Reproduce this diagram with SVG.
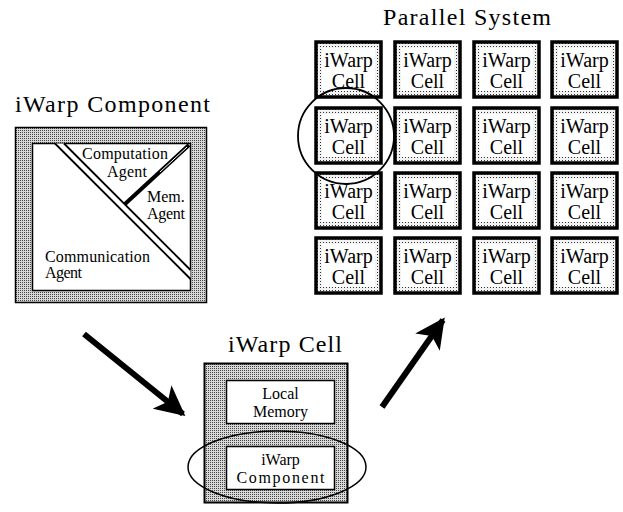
<svg xmlns="http://www.w3.org/2000/svg" width="623" height="512" viewBox="0 0 623 512">
<defs>
<pattern id="stip" width="2" height="2" patternUnits="userSpaceOnUse">
<rect width="2" height="2" fill="#d8d8d8"/>
<rect x="0" y="0" width="1" height="1" fill="#444"/>
</pattern>
<pattern id="dots" width="3" height="3" patternUnits="userSpaceOnUse">
<rect width="3" height="3" fill="#f2f2f2"/>
<rect x="1" y="1" width="1" height="1" fill="#333"/>
</pattern>
<marker id="ah" viewBox="0 0 10 10" refX="9" refY="5" markerWidth="5" markerHeight="5" orient="auto" markerUnits="strokeWidth">
<path d="M0,0 L10,5 L0,10 L2.5,5 Z" fill="#000"/>
</marker>
<g id="cell">
<rect x="0" y="0" width="65" height="55" fill="url(#dots)" stroke="#000" stroke-width="3.5"/>
<rect x="6" y="6" width="53" height="43" fill="#fff"/>
<text x="32.5" y="25" class="c">iWarp</text>
<text x="32.5" y="46" class="c">Cell</text>
</g>
</defs>
<style>
text{font-family:"Liberation Serif","Times New Roman",serif;fill:#000}
.t{font-size:24px}
.s{font-size:16px}
.c{font-size:20px;text-anchor:middle}
.m{font-size:16px;text-anchor:middle}
</style>
<rect width="623" height="512" fill="#fff"/>

<g id="iwarp-component">
<text x="15" y="112" class="t" textLength="195" lengthAdjust="spacing">iWarp  Component</text>
<rect x="15.5" y="127.5" width="191" height="175" fill="url(#stip)" stroke="#000" stroke-width="1.5"/>
<rect x="32.5" y="143.5" width="158" height="147" fill="#fff" stroke="#000" stroke-width="1.5"/>
<polygon points="55,143.5 64,143.5 190.5,270 190.5,279" fill="#fff"/>
<line x1="55" y1="143.5" x2="190.5" y2="279" stroke="#000" stroke-width="1.8"/>
<line x1="64" y1="143.5" x2="190.5" y2="270" stroke="#000" stroke-width="1.8"/>
<line x1="189" y1="145" x2="125" y2="204" stroke="#000" stroke-width="4"/>
<line x1="187" y1="147" x2="160" y2="172" stroke="#fff" stroke-width="1"/>
<text x="82" y="159" class="s" textLength="86" lengthAdjust="spacing">Computation</text>
<text x="107" y="177" class="s" textLength="40" lengthAdjust="spacing">Agent</text>
<text x="147" y="202" class="s">Mem.</text>
<text x="147" y="219" class="s" textLength="38" lengthAdjust="spacing">Agent</text>
<text x="45" y="262" class="s" textLength="105" lengthAdjust="spacing">Communication</text>
<text x="45" y="278" class="s" textLength="37" lengthAdjust="spacing">Agent</text>
</g>

<g id="iwarp-cell">
<text x="228" y="352" class="t" textLength="114" lengthAdjust="spacing">iWarp Cell</text>
<rect x="204.5" y="363.5" width="143" height="139" fill="url(#stip)" stroke="#000" stroke-width="2"/>
<g id="local-memory">
<rect x="226.5" y="380.5" width="108" height="43" fill="#fff" stroke="#000" stroke-width="1.5"/>
<text x="280.5" y="399" class="m">Local</text>
<text x="280.5" y="417" class="m">Memory</text>
</g>
<g id="cell-component">
<rect x="226.5" y="446.5" width="108" height="43" fill="#fff" stroke="#000" stroke-width="1.5"/>
<text x="280.5" y="465" class="m">iWarp</text>
<text x="280.5" y="483" class="m" textLength="88" lengthAdjust="spacing">Component</text>
</g>
<ellipse cx="277" cy="467" rx="89" ry="36" fill="none" stroke="#000" stroke-width="1.5"/>
</g>

<g id="parallel-system">
<text x="383" y="25" class="t" textLength="168" lengthAdjust="spacing">Parallel  System</text>
<use href="#cell" x="316" y="42"/>
<use href="#cell" x="395" y="42"/>
<use href="#cell" x="474" y="42"/>
<use href="#cell" x="552" y="42"/>
<use href="#cell" x="316" y="108"/>
<use href="#cell" x="395" y="108"/>
<use href="#cell" x="474" y="108"/>
<use href="#cell" x="552" y="108"/>
<use href="#cell" x="316" y="173"/>
<use href="#cell" x="395" y="173"/>
<use href="#cell" x="474" y="173"/>
<use href="#cell" x="552" y="173"/>
<use href="#cell" x="316" y="238"/>
<use href="#cell" x="395" y="238"/>
<use href="#cell" x="474" y="238"/>
<use href="#cell" x="552" y="238"/>
<circle cx="346" cy="136" r="48" fill="none" stroke="#000" stroke-width="1.8"/>
</g>

<g id="connectors" stroke="#000" stroke-width="6" fill="none">
<line x1="84" y1="334" x2="183" y2="414" marker-end="url(#ah)"/>
<line x1="382" y1="407" x2="443" y2="320" marker-end="url(#ah)"/>
</g>
</svg>
